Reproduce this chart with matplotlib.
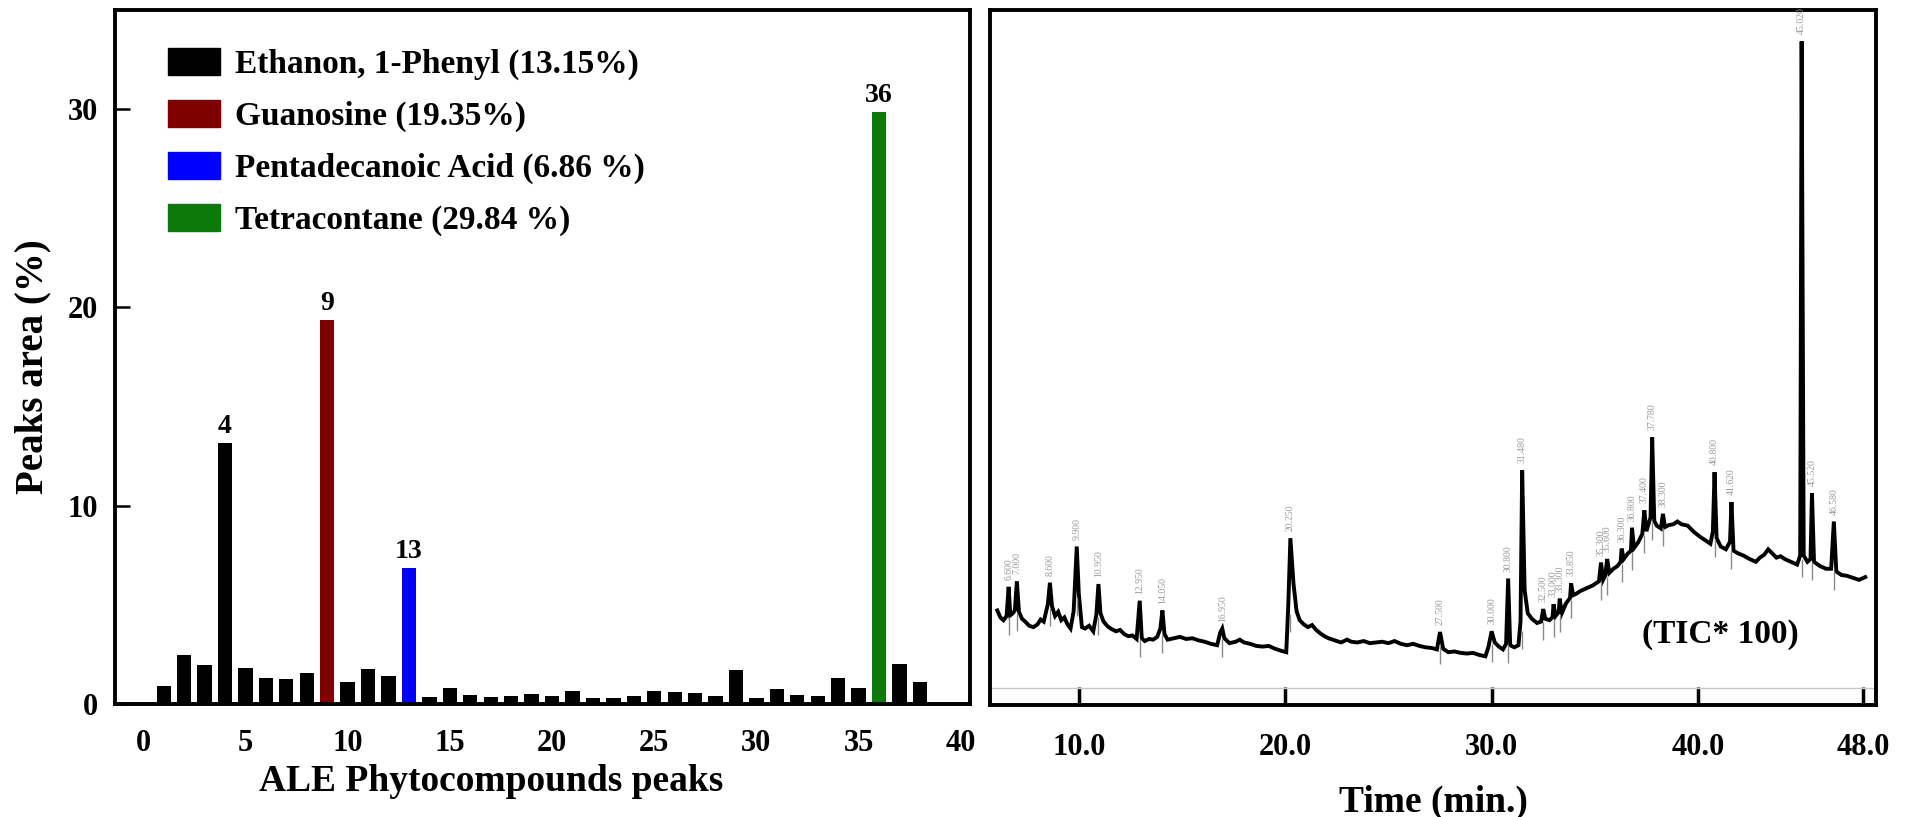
import matplotlib
matplotlib.use("Agg")
import matplotlib.pyplot as plt
from matplotlib.patches import Patch
import numpy as np

plt.rcParams['font.family'] = ['Liberation Serif', 'DejaVu Serif']
plt.rcParams['font.weight'] = 'bold'

# ---- left panel: peak areas of the ALE phytocompounds ----
peak_no = list(range(1, 39))
peak_area = [0.9, 2.45, 1.95, 13.15, 1.8, 1.3, 1.25, 1.55, 19.35, 1.1,
             1.75, 1.4, 6.86, 0.35, 0.8, 0.45, 0.36, 0.4, 0.52, 0.4,
             0.66, 0.28, 0.28, 0.4, 0.66, 0.62, 0.55, 0.42, 1.73, 0.3,
             0.78, 0.46, 0.42, 1.32, 0.82, 29.84, 2.02, 1.1]
highlight = {4: 'black', 9: '#800000', 13: '#0000ff', 36: '#0b7a0b'}
legend_names = ['Ethanon, 1-Phenyl (13.15%)', 'Guanosine (19.35%)',
                'Pentadecanoic Acid (6.86 %)', 'Tetracontane (29.84 %)']

# ---- right panel: GC-MS chromatogram (TIC) ----
rt = [6.05, 6.2, 6.35, 6.5, 6.6, 6.68, 6.8, 6.9, 7.0, 7.1, 7.25, 7.4, 7.6, 7.8,
      8.0, 8.15, 8.3, 8.5, 8.6, 8.7, 8.85, 9.0, 9.15, 9.3, 9.45, 9.6, 9.75, 9.9,
      10.0, 10.15, 10.3, 10.5, 10.7, 10.85, 10.95, 11.05, 11.2, 11.4, 11.6, 11.8,
      12.0, 12.2, 12.4, 12.6, 12.8, 12.95, 13.05, 13.2, 13.4, 13.6, 13.8, 13.95,
      14.05, 14.15, 14.3, 14.6, 14.9, 15.2, 15.5, 15.8, 16.1, 16.4, 16.7, 16.85,
      16.95, 17.05, 17.3, 17.6, 17.8, 18.0, 18.3, 18.6, 18.9, 19.2, 19.5, 19.8,
      20.05, 20.15, 20.25, 20.4, 20.55, 20.7, 20.9, 21.1, 21.3, 21.5, 21.7, 21.9,
      22.1, 22.4, 22.7, 23.0, 23.2, 23.5, 23.8, 24.1, 24.4, 24.7, 25.0, 25.3,
      25.6, 25.9, 26.2, 26.5, 26.8, 27.1, 27.35, 27.5, 27.65, 27.9, 28.2, 28.5,
      28.8, 29.1, 29.4, 29.7, 29.85, 30.0, 30.15, 30.35, 30.55, 30.7, 30.8, 30.9,
      31.1, 31.3, 31.4, 31.48, 31.6, 31.75, 31.95, 32.2, 32.4, 32.5, 32.6, 32.8,
      32.95, 33.0, 33.1, 33.25, 33.3, 33.4, 33.6, 33.8, 33.85, 33.95, 34.1, 34.3,
      34.6, 34.9, 35.2, 35.3, 35.4, 35.5, 35.6, 35.7, 35.9, 36.1, 36.25, 36.3,
      36.4, 36.6, 36.75, 36.8, 36.9, 37.1, 37.3, 37.4, 37.5, 37.7, 37.78, 37.88,
      38.0, 38.2, 38.3, 38.4, 38.6, 38.8, 39.0, 39.2, 39.5, 39.8, 40.1, 40.4,
      40.6, 40.72, 40.8, 40.9, 41.1, 41.35, 41.55, 41.62, 41.72, 41.95, 42.2,
      42.5, 42.8, 43.0, 43.2, 43.4, 43.6, 43.8, 44.0, 44.2, 44.5, 44.8, 44.95,
      45.02, 45.12, 45.3, 45.45, 45.52, 45.62, 45.9, 46.2, 46.45, 46.58, 46.7,
      46.95, 47.2, 47.5, 47.8, 48.1]
tic = [13.6, 12.6, 12.2, 12.8, 17.0, 12.9, 13.2, 13.6, 17.8, 13.4, 12.4, 12.0, 11.4, 11.2,
       11.6, 12.3, 12.0, 14.5, 17.6, 14.2, 12.8, 13.4, 12.2, 12.6, 11.6, 11.0, 13.5, 22.8,
       16.0, 11.2, 11.0, 11.4, 10.6, 13.0, 17.4, 13.2, 12.0, 11.3, 10.9, 10.6,
       10.8, 10.2, 9.9, 10.0, 9.5, 15.0, 9.6, 9.2, 9.5, 9.4, 9.8, 11.0,
       13.6, 10.2, 9.4, 9.6, 9.8, 9.5, 9.6, 9.3, 9.1, 8.8, 8.6, 10.4,
       11.0, 9.6, 8.9, 9.1, 9.4, 9.0, 8.8, 8.5, 8.4, 8.5, 8.1, 7.8,
       7.6, 14.5, 24.0, 17.5, 13.5, 12.2, 11.6, 11.2, 11.5, 10.8, 10.3, 9.9,
       9.6, 9.3, 9.0, 9.4, 9.1, 9.0, 9.2, 8.9, 9.0, 9.1, 8.9, 9.2,
       8.8, 8.6, 8.8, 8.5, 8.3, 8.2, 8.0, 10.5, 8.1, 7.6, 7.7, 7.5,
       7.4, 7.5, 7.2, 7.0, 8.4, 10.6, 9.0, 8.4, 8.0, 8.8, 18.2, 8.6,
       8.3, 8.6, 12.0, 33.8, 16.5, 13.2, 12.4, 11.8, 12.0, 13.8, 12.4, 12.2,
       12.6, 14.5, 12.8, 13.4, 15.3, 13.2, 14.6, 15.4, 17.5, 15.8, 16.0, 16.4,
       16.8, 17.2, 17.8, 20.5, 18.0, 18.6, 21.0, 19.0, 19.6, 20.0, 20.6, 22.5,
       21.0, 21.8, 22.2, 25.5, 22.6, 23.4, 24.6, 28.0, 25.0, 27.0, 38.5, 26.5,
       25.8, 25.4, 27.5, 25.6, 25.9, 26.0, 26.4, 26.0, 25.8, 24.9, 24.2, 23.6,
       23.2, 25.0, 33.5, 24.0, 22.8, 22.4, 23.5, 29.2, 22.2, 21.8, 21.5,
       21.0, 20.6, 21.2, 21.6, 22.4, 21.8, 21.2, 21.4, 21.0, 20.6, 20.2, 21.5,
       95.5, 21.5, 20.6, 21.0, 30.5, 20.6, 20.0, 19.6, 19.6, 26.4, 19.2,
       18.7, 18.6, 18.3, 18.0, 18.4]
labelled_rt = [6.6, 7.0, 8.6, 9.9, 10.95, 12.95, 14.05, 16.95, 20.25, 27.5, 30.0,
               30.8, 31.48, 32.5, 33.0, 33.3, 33.85, 35.3, 35.6, 36.3, 36.8, 37.4,
               37.78, 38.3, 40.8, 41.62, 45.02, 45.52, 46.58]
time_ticks = [10, 20, 30, 40, 48]

fig = plt.figure(figsize=(19.08, 8.17), dpi=100)
ax1 = fig.add_axes([0.0603, 0.1383, 0.4481, 0.8495])
ax2 = fig.add_axes([0.5189, 0.1371, 0.4643, 0.8507])

# left bar chart
colors = [highlight.get(n, 'black') for n in peak_no]
ax1.bar(peak_no, peak_area, width=0.7, color=colors)
for n in highlight:
    ax1.annotate(str(n), (n, peak_area[n - 1]), xytext=(0, 3),
                 textcoords='offset points', ha='center', va='bottom',
                 fontsize=20, fontweight='bold')
ax1.set_xlim(-1.38, 40.45)
ax1.set_ylim(0, 35)
ax1.set_xticks(range(0, 41, 5))
ax1.set_yticks([0, 10, 20, 30])
ax1.tick_params(axis='x', length=0, pad=18, labelsize=22)
ax1.tick_params(axis='y', direction='in', length=11, width=1.8, pad=12, labelsize=22)
ax1.set_xlabel('ALE Phytocompounds peaks', fontsize=27, fontweight='bold')
ax1.xaxis.set_label_coords(0.44, -0.087)
ax1.set_ylabel('Peaks area (%)', fontsize=28, fontweight='bold')
ax1.yaxis.set_label_coords(-0.074, 0.486)
handles = [Patch(color=c) for c in highlight.values()]
ax1.legend(handles, legend_names, loc='upper left', bbox_to_anchor=(0.062, 0.945),
           frameon=False, fontsize=24, handlelength=1.55, handleheight=0.85,
           handletextpad=0.45, labelspacing=0.6, borderpad=0, borderaxespad=0)

# right chromatogram
ax2.plot(rt, tic, color='black', lw=2.8, solid_joinstyle='miter')
ax2.axhline(2.45, color='#c8c8c8', lw=1)
for t in labelled_rt:
    h = np.interp(t, rt, tic)
    lo = min(np.interp(t - 0.12, rt, tic), np.interp(t + 0.12, rt, tic))
    ax2.vlines(t, lo - 2.6, lo, color='#8a8a8a', lw=1)
    ax2.text(t, h + 1.0, '%.3f' % t, rotation=90, fontsize=7, color='#9a9a9a',
             ha='center', va='bottom', fontweight='normal')
ax2.text(41.1, 10.1, '(TIC* 100)', fontsize=24, fontweight='bold', ha='center', va='center')
ax2.set_xlim(5.7, 48.62)
ax2.set_ylim(0, 100)
ax2.set_xticks(time_ticks)
ax2.set_xticklabels(['%.1f' % t for t in time_ticks])
ax2.set_yticks([])
ax2.tick_params(axis='x', direction='in', length=13, width=2.5, pad=20, labelsize=22)
ax2.set_xlabel('Time (min.)', fontsize=27, fontweight='bold')
ax2.xaxis.set_label_coords(0.5, -0.115)

for ax in (ax1, ax2):
    for s in ax.spines.values():
        s.set_linewidth(2.8)

fig.savefig('out.png', dpi=100)
